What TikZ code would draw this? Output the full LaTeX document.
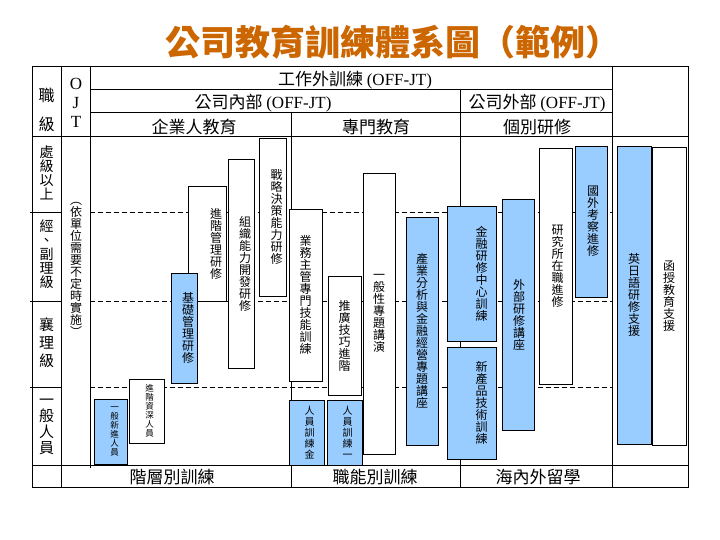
\documentclass[tikz,border=0pt]{standalone}
\usepackage{fontspec}
\setmainfont{Noto Sans CJK TC}
\newfontfamily\lat{Liberation Serif}
\definecolor{boxblue}{RGB}{153,204,255}
\definecolor{titleor}{RGB}{204,102,0}
\def\vtend{}
\def\vtloop#1{\ifx#1\vtend\else\hbox to 1em{\hss#1\hss}\expandafter\vtloop\fi}
\newcommand\vt[2][12pt]{\vbox{\baselineskip=#1\lineskiplimit=-\maxdimen\lineskip=0pt\vtloop#2\vtend}}
\newcommand\bx[8]{%
  \node[boxst,fill=#6,minimum width={#4-#2},minimum height={#5-#3}] (#1) at (#2,#3) {};
  \node[vtx] (#1t) at ([xshift=#7]#1.center) {\vt{#8}};}
\begin{document}
\begin{tikzpicture}[x=1pt,y=-1pt,line width=0.8pt,
  boxst/.style={draw,line width=0.8pt,inner sep=0pt,outer sep=0pt,anchor=north west},
  vtx/.style={inner sep=0pt,font=\fontsize{12}{12}\selectfont},
  vts/.style={inner sep=0pt,font=\fontsize{8.5}{9}\selectfont},
  hd/.style={inner sep=0pt,font=\fontsize{17}{17}\selectfont},
  lv/.style={inner sep=0pt,font=\fontsize{15}{15}\selectfont},
  dline/.style={line width=0.8pt,dash pattern=on 5pt off 3pt}]
\useasboundingbox (0,0) rectangle (720,540);
\fill[white] (0,0) rectangle (720,540);
% title
\node[inner sep=0pt,text=titleor,font=\fontsize{35}{35}\selectfont\bfseries] (title) at (393,42) {公司教育訓練體系圖（範例）};
% dashed level lines
\draw[dline] (90,212) -- (612,212);
\draw[dline] (90,301) -- (612,301);
\draw[dline] (90,387) -- (612,387);
% table lines
\draw (32,66) rectangle (688,487);
\draw (61,66) -- (61,487);
\draw (90,66) -- (90,468);
\draw (612,66) -- (612,487);
\draw (460,89) -- (460,487);
\draw (291,112) -- (291,487);
\draw (90,89) -- (612,89);
\draw (90,112) -- (612,112);
\draw (32,136) -- (688,136);
\draw (32,465) -- (688,465);
\draw (30,212) -- (61,212);
\draw (30,301) -- (61,301);
\draw (30,387) -- (61,387);
% header texts
\node[hd] (h1) at (355,80) {工作外訓練 {\lat (OFF-JT)}};
\node[hd] (h2) at (263,103) {公司內部 {\lat (OFF-JT)}};
\node[hd] (h3) at (537,103) {公司外部 {\lat (OFF-JT)}};
\node[hd] (h4) at (194,127) {企業人教育};
\node[hd] (h5) at (376,127) {專門教育};
\node[hd] (h6) at (537,127) {個別研修};
\node[lv,font=\fontsize{16}{16}\selectfont] (zhi) at (46.5,95) {職};
\node[lv,font=\fontsize{16}{16}\selectfont] (ji) at (46.5,124) {級};
\node[inner sep=0pt,font=\lat\fontsize{17}{17}\selectfont] (o) at (76,84) {O};
\node[inner sep=0pt,font=\lat\fontsize{17}{17}\selectfont] (j) at (76,103) {J};
\node[inner sep=0pt,font=\lat\fontsize{17}{17}\selectfont] (t) at (76,122) {T};
% level labels
\node[lv,font=\fontsize{14}{14}\selectfont] (lv1) at (46.5,173) {\vt[14pt]{處級以上}};
\node[lv,font=\fontsize{14}{14}\selectfont] (lv2) at (46.5,254) {\vt[14pt]{經、副理級}};
\node[lv] (lv3) at (46.5,343) {\vt[18pt]{襄理級}};
\node[lv] (lv4) at (46.5,427) {\vt[16pt]{一般人員}};
\node[vtx] (ojt) at (76,269) {\vt{︵依單位需要不定時實施︶}};
% bottom labels
\node[hd] (b1) at (172,477) {階層別訓練};
\node[hd] (b2) at (375,477) {職能別訓練};
\node[hd] (b3) at (538,477) {海內外留學};
% boxes
\node[boxst,fill=boxblue,minimum width=33,minimum height=65] (xinjin) at (94,399) {};
\node[vts] (xinjint) at ([xshift=4]xinjin.center) {\vt[9pt]{一般新進人員}};
\node[boxst,fill=white,minimum width=35,minimum height=64] (zishen) at (129,379) {};
\node[vts] (zishent) at ([xshift=3]zishen.center) {\vt[9pt]{進階資深人員}};
\bx{jjgl}{188}{186}{226}{301}{white}{9}{進階管理研修}
\bx{jichu}{171}{273}{197}{383}{boxblue}{4}{基礎管理研修}
\bx{zuzhi}{228}{159}{254}{368}{white}{4}{組織能力開發研修}
\bx{zhanlue}{259}{138}{286}{296}{white}{4}{戰略決策能力研修}
\bx{yewu}{289}{209}{322}{381}{white}{0}{業務主管專門技能訓練}
\bx{tuiguang}{328}{276}{361}{395}{white}{0}{推廣技巧進階}
\bx{yiban}{363}{173}{395}{454}{white}{0}{一般性專題講演}
\node[boxst,fill=boxblue,minimum width=35,minimum height=65] (ry1) at (289,400) {};
\node[vtx,font=\fontsize{10}{11}\selectfont] (ry1t) at ([xshift=3]ry1.center) {\vt[11pt]{人員訓練金}};
\node[boxst,fill=boxblue,minimum width=35,minimum height=65] (ry2) at (327,400) {};
\node[vtx,font=\fontsize{10}{11}\selectfont] (ry2t) at ([xshift=3]ry2.center) {\vt[11pt]{人員訓練一}};
\bx{chanye}{406}{217}{438}{445}{boxblue}{0}{產業分析與金融經營專題講座}
\bx{jinrong}{447}{206}{496}{341}{boxblue}{10}{金融研修中心訓練}
\bx{xinchan}{447}{347}{496}{459}{boxblue}{10}{新產品技術訓練}
\bx{waibu}{502}{199}{534}{430}{boxblue}{1}{外部研修講座}
\bx{yanjiu}{539}{148}{572}{384}{white}{2}{研究所在職進修}
\bx{guowai}{575}{146}{607}{297}{boxblue}{2}{國外考察進修}
\bx{yingri}{617}{146}{651}{444}{boxblue}{0}{英日語研修支援}
\bx{hanshou}{652}{147}{686}{445}{white}{0}{函授教育支援}
\end{tikzpicture}
\end{document}
